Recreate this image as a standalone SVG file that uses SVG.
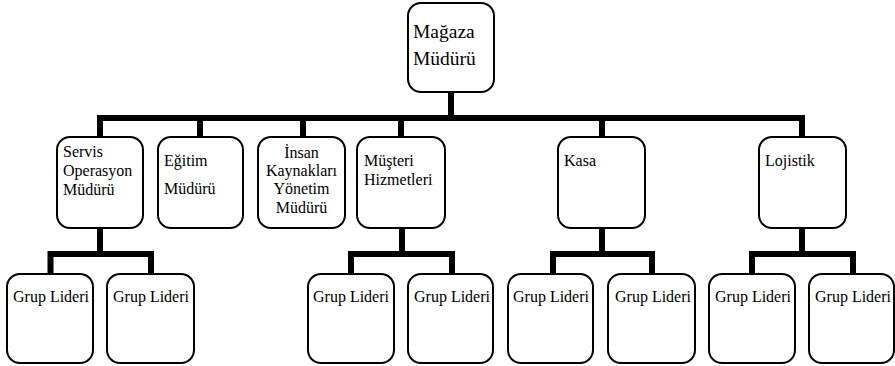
<svg xmlns="http://www.w3.org/2000/svg" width="895" height="366" viewBox="0 0 895 366">
<style>
.box{fill:#fff;stroke:#000;stroke-width:2}
.t{font-family:'Liberation Serif','DejaVu Serif',serif;font-size:16px;fill:#000}
.tt{font-family:'Liberation Serif','DejaVu Serif',serif;font-size:19.5px;fill:#000}
.c{fill:none;stroke:#000;stroke-width:6;stroke-linejoin:miter;stroke-linecap:butt}
</style>
<rect width="895" height="366" fill="#fff"/>
<g id="connectors">
<path class="c" d="M451 92 V118"/>
<path class="c" d="M100 137 V118 H802 V137"/>
<path class="c" d="M200 118 V137"/>
<path class="c" d="M303 118 V137"/>
<path class="c" d="M401 118 V137"/>
<path class="c" d="M602 118 V137"/>
<path class="c" d="M100 228 V254"/>
<path class="c" d="M50.5 274 V254 H151 V274"/>
<path class="c" d="M402 228 V254"/>
<path class="c" d="M351 274 V254 H452 V274"/>
<path class="c" d="M602 228 V254"/>
<path class="c" d="M553 274 V254 H652 V274"/>
<path class="c" d="M802 228 V254"/>
<path class="c" d="M752 274 V254 H853 V274"/>
</g>
<g id="magaza-muduru">
<rect class="box" x="408" y="3" width="86" height="89" rx="13"/>
<text class="tt" x="413" y="38" font-family="Liberation Serif, serif">Mağaza</text>
<text class="tt" x="413" y="65" font-family="Liberation Serif, serif">Müdürü</text>
</g>
<g id="servis">
<rect class="box" x="57" y="137" width="86" height="91" rx="13"/>
<text class="t" x="63" y="157">Servis</text>
<text class="t" x="63" y="176">Operasyon</text>
<text class="t" x="63" y="195">Müdürü</text>
</g>
<g id="egitim">
<rect class="box" x="158" y="137" width="85" height="91" rx="13"/>
<text class="t" x="164" y="166">Eğitim</text>
<text class="t" x="164" y="194">Müdürü</text>
</g>
<g id="insan">
<rect class="box" x="258" y="137" width="87" height="91" rx="13"/>
<text class="t" x="301.5" y="157.5" text-anchor="middle">İnsan</text>
<text class="t" x="301.5" y="176" text-anchor="middle">Kaynakları</text>
<text class="t" x="301.5" y="194" text-anchor="middle">Yönetim</text>
<text class="t" x="301.5" y="212.5" text-anchor="middle">Müdürü</text>
</g>
<g id="musteri">
<rect class="box" x="357" y="137" width="88" height="91" rx="13"/>
<text class="t" x="364" y="166">Müşteri</text>
<text class="t" x="364" y="184.5">Hizmetleri</text>
</g>
<g id="kasa">
<rect class="box" x="558" y="137" width="87" height="91" rx="13"/>
<text class="t" x="564" y="166">Kasa</text>
</g>
<g id="lojistik">
<rect class="box" x="759" y="137" width="87" height="91" rx="13"/>
<text class="t" x="765" y="166">Lojistik</text>
</g>
<g id="grup1"><rect class="box" x="7" y="274" width="86" height="89" rx="13"/><text class="t" x="13" y="302">Grup Lideri</text></g>
<g id="grup2"><rect class="box" x="107" y="274" width="87" height="89" rx="13"/><text class="t" x="113" y="302">Grup Lideri</text></g>
<g id="grup3"><rect class="box" x="308" y="274" width="86" height="89" rx="13"/><text class="t" x="313" y="302">Grup Lideri</text></g>
<g id="grup4"><rect class="box" x="408" y="274" width="85" height="89" rx="13"/><text class="t" x="414" y="302">Grup Lideri</text></g>
<g id="grup5"><rect class="box" x="508" y="274" width="85" height="89" rx="13"/><text class="t" x="513" y="302">Grup Lideri</text></g>
<g id="grup6"><rect class="box" x="608" y="274" width="87" height="89" rx="13"/><text class="t" x="615" y="302">Grup Lideri</text></g>
<g id="grup7"><rect class="box" x="709" y="274" width="86" height="89" rx="13"/><text class="t" x="715" y="302">Grup Lideri</text></g>
<g id="grup8"><rect class="box" x="809" y="274" width="85" height="89" rx="13"/><text class="t" x="815" y="302">Grup Lideri</text></g>
</svg>
